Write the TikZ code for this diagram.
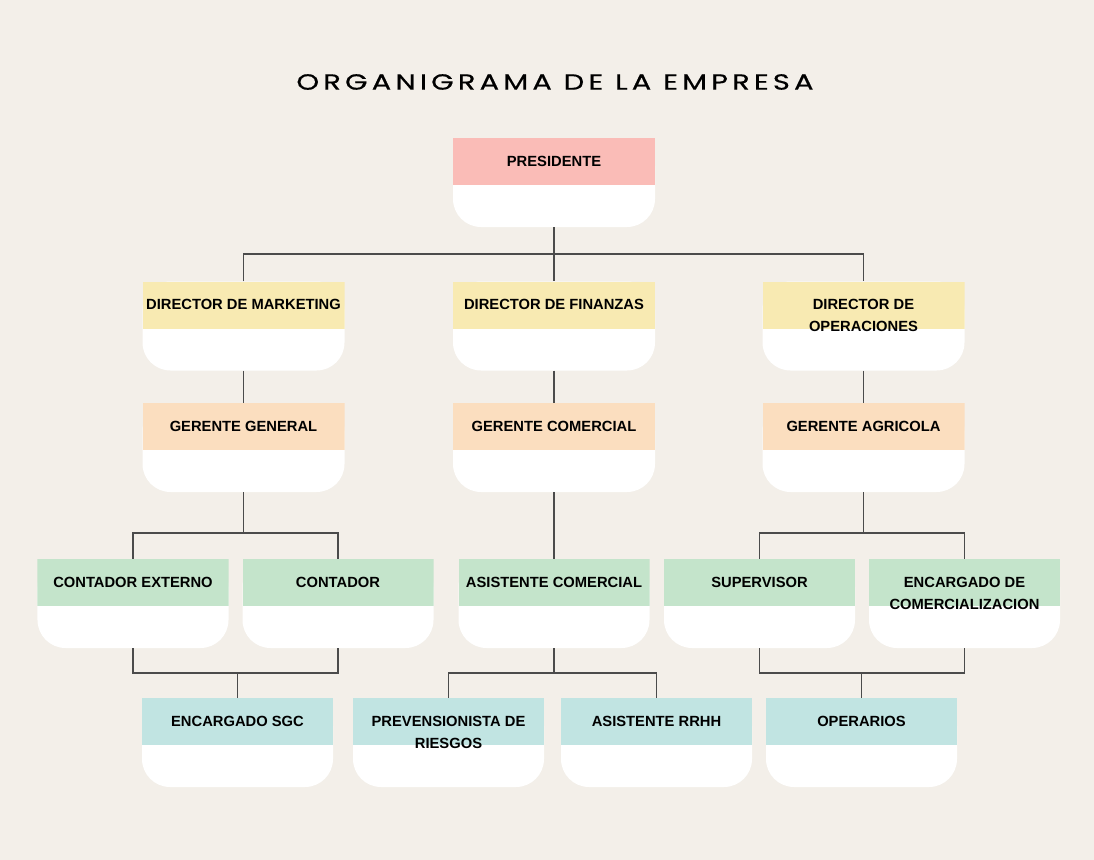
\documentclass[tikz,border=0pt]{standalone}
\usepackage{fontspec}
\usepackage{xcolor}
\setmainfont{Liberation Sans}
\newfontfamily\titlefont[LetterSpace=19, FakeStretch=1.32, FakeBold=0.6]{Poppins}
\definecolor{bgc}{RGB}{243,239,233}
\definecolor{pinkc}{RGB}{250,188,183}
\definecolor{yelc}{RGB}{248,234,178}
\definecolor{orac}{RGB}{251,222,191}
\definecolor{grec}{RGB}{196,228,203}
\definecolor{cyac}{RGB}{193,228,226}
\definecolor{linec}{RGB}{75,75,75}

\begin{document}
\begin{tikzpicture}[x=1bp,y=-1bp,
    box/.style={minimum width=191bp, minimum height=89bp, inner sep=0pt,
        text height=28bp, text depth=61bp, align=center,
        font=\fontsize{14.8}{22}\selectfont\bfseries,
        path picture={
            \fill[white, rounded corners=28bp] (path picture bounding box.north west) rectangle (path picture bounding box.south east);
            \fill[#1] (path picture bounding box.north west) rectangle ([yshift=-47bp]path picture bounding box.north east);
        }},
    wbox/.style={box=#1, minimum width=202bp},
    twoline/.style={text height=50bp, text depth=39bp},
    conn/.style={draw=linec, line width=1.3bp}]
    % Background and title
    \fill[bgc] (0,0) rectangle (1094,860);
    \node (title) at (555,82) {\titlefont\fontsize{22}{24}\selectfont ORGANIGRAMA DE LA EMPRESA};
    % Levels of the horizontal bars
    \coordinate (lvl1) at (0,254);
    \coordinate (lvl3) at (0,533);
    \coordinate (lvl4) at (0,673);
    % Boxes
    \node[wbox=pinkc] (pres) at (554,182.5) {PRESIDENTE};
    \node[wbox=yelc] (dirmkt) at (243.5,326) {DIRECTOR DE MARKETING};
    \node[wbox=yelc] (dirfin) at (554,326) {DIRECTOR DE FINANZAS};
    \node[wbox=yelc, twoline] (dirop) at (863.5,326) {DIRECTOR DE\\OPERACIONES};
    \node[wbox=orac] (gergen) at (243.5,447.5) {GERENTE GENERAL};
    \node[wbox=orac] (gercom) at (554,447.5) {GERENTE COMERCIAL};
    \node[wbox=orac] (geragr) at (863.5,447.5) {GERENTE AGRICOLA};
    \node[box=grec] (context) at (133,603.5) {CONTADOR EXTERNO};
    \node[box=grec] (cont) at (338,603.5) {CONTADOR};
    \node[box=grec] (asicom) at (554,603.5) {ASISTENTE COMERCIAL};
    \node[box=grec] (sup) at (759.5,603.5) {SUPERVISOR};
    \node[box=grec, twoline] (enccom) at (964.5,603.5) {ENCARGADO DE\\COMERCIALIZACION};
    \node[box=cyac] (sgc) at (237.5,742.5) {ENCARGADO SGC};
    \node[box=cyac, twoline] (prev) at (448.5,742.5) {PREVENSIONISTA DE\\RIESGOS};
    \node[box=cyac] (rrhh) at (656.5,742.5) {ASISTENTE RRHH};
    \node[box=cyac] (oper) at (861.5,742.5) {OPERARIOS};
    % Connectors
    \draw[conn] (pres.south) -- (dirfin.north);
    \draw[conn] (dirmkt.north) |- (lvl1 -| pres.south) -| (dirop.north);
    \draw[conn] (dirmkt.south) -- (gergen.north);
    \draw[conn] (dirfin.south) -- (gercom.north);
    \draw[conn] (dirop.south) -- (geragr.north);
    \draw[conn] (gergen.south) -- (lvl3 -| gergen.south);
    \draw[conn] (context.north) |- (lvl3 -| gergen.south) -| (cont.north);
    \draw[conn] (gercom.south) -- (asicom.north);
    \draw[conn] (geragr.south) -- (lvl3 -| geragr.south);
    \draw[conn] (sup.north) |- (lvl3 -| geragr.south) -| (enccom.north);
    \draw[conn] (context.south) |- (lvl4 -| sgc.north) -| (cont.south);
    \draw[conn] (lvl4 -| sgc.north) -- (sgc.north);
    \draw[conn] (asicom.south) -- (lvl4 -| asicom.south);
    \draw[conn] (prev.north) |- (lvl4 -| asicom.south) -| (rrhh.north);
    \draw[conn] (sup.south) |- (lvl4 -| oper.north) -| (enccom.south);
    \draw[conn] (lvl4 -| oper.north) -- (oper.north);
\end{tikzpicture}
\end{document}
